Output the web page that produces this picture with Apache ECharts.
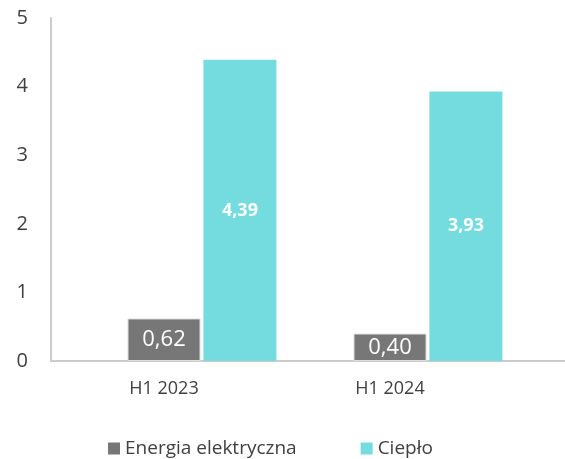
<!DOCTYPE html>
<html>
<head>
<meta charset="utf-8">
<script src="https://cdn.jsdelivr.net/npm/echarts@6/dist/echarts.min.js"></script>
<style>
  html, body { margin: 0; padding: 0; background: #fff; }
  #chart { width: 565px; height: 459px; }
</style>
</head>
<body>
<div id="chart"></div>
<script>
  var categories = ['H1 2023', 'H1 2024'];
  var energia = [0.62, 0.40];
  var cieplo = [4.39, 3.93];
  var yTicks = [0, 1, 2, 3, 4, 5];

  var fmt = function (p) { return String(p.value.toFixed(2)).replace('.', ','); };

  var myChart = echarts.init(document.getElementById('chart'));
  myChart.setOption({
    animation: false,
    textStyle: { fontFamily: 'Open Sans' },
    grid: [
      { left: 51, right: 0, top: 18, bottom: 98 },   // pelna szerokosc - tylko osie
      { left: 51, right: 62, top: 18, bottom: 98 }   // slupki
    ],
    legend: {
      top: 434,
      left: 103,
      itemWidth: 12,
      itemHeight: 12,
      itemGap: 64,
      icon: 'rect',
      itemStyle: { borderWidth: 0 },
      data: ['Energia elektryczna', 'Ciepło'],
      textStyle: { fontSize: 19, color: '#404040', fontFamily: 'Open Sans' }
    },
    xAxis: [
      {
        gridIndex: 0,
        type: 'category',
        data: categories,
        axisLine: { lineStyle: { color: '#cccccc', width: 2 } },
        axisTick: { show: false },
        axisLabel: { show: false }
      },
      {
        gridIndex: 1,
        type: 'category',
        data: categories,
        axisLine: { show: false },
        axisTick: { show: false },
        axisLabel: { fontSize: 18, color: '#404040', margin: 19 }
      }
    ],
    yAxis: [
      {
        gridIndex: 0,
        type: 'value',
        min: yTicks[0],
        max: yTicks[yTicks.length - 1],
        interval: 1,
        axisLine: { show: true, lineStyle: { color: '#cccccc', width: 2 } },
        axisTick: { show: false },
        splitLine: { show: false },
        axisLabel: { fontSize: 20, color: '#404040', margin: 23 }
      },
      {
        gridIndex: 1,
        type: 'value',
        min: yTicks[0],
        max: yTicks[yTicks.length - 1],
        show: false
      }
    ],
    series: [
      {
        name: 'pusty',
        type: 'bar',
        xAxisIndex: 1,
        yAxisIndex: 1,
        barWidth: 73,
        barGap: '4%',
        data: ['-', '-']
      },
      {
        name: 'Energia elektryczna',
        type: 'bar',
        xAxisIndex: 1,
        yAxisIndex: 1,
        barWidth: 73,
        barGap: '4%',
        data: energia,
        itemStyle: { color: '#777777', borderColor: '#dddddd', borderWidth: 1 },
        label: {
          show: true,
          position: 'inside',
          color: '#ffffff',
          fontSize: 22,
          formatter: fmt
        }
      },
      {
        name: 'Ciepło',
        type: 'bar',
        xAxisIndex: 1,
        yAxisIndex: 1,
        barWidth: 73,
        barGap: '4%',
        data: cieplo,
        itemStyle: { color: '#74dbdf' },
        label: {
          show: true,
          position: 'inside',
          color: '#ffffff',
          fontSize: 18,
          fontWeight: 'bold',
          formatter: fmt
        }
      }
    ]
  });
</script>
</body>
</html>
